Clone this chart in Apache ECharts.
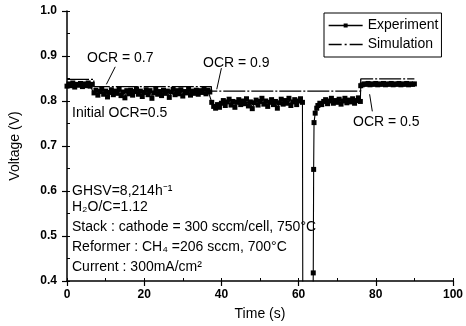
<!DOCTYPE html>
<html>
<head>
<meta charset="utf-8">
<script src="https://cdn.jsdelivr.net/npm/echarts@6/dist/echarts.min.js"></script>
<style>
html,body{margin:0;padding:0;background:#fff}
#chart{width:466px;height:326px}
</style>
</head>
<body>
<div id="chart"></div>
<script>
// experiment: time (s) and stack voltage (V)
const expTime = [
    0,0.5,1,1.5,2,2.5,3,3.5,4,4.5,5,5.5,6,6.5,
    7,7.5,8,8.5,9,9.5,10,10.5,11,11.5,
    12,12.5,13,13.5,14,14.5,15,15.5,16,16.5,
    17,17.5,18,18.5,19,19.5,20,20.5,21,21.5,
    22,22.5,23,23.5,24,24.5,25,25.5,26,26.5,
    27,27.5,28,28.5,29,29.5,30,30.5,31,31.5,
    32,32.5,33,33.5,34,34.5,35,35.5,36,36.5,37,
    37.5,38,38.5,39,39.5,40,40.5,41,41.5,42,
    42.5,43,43.5,44,44.5,45,45.5,46,46.5,47,
    47.5,48,48.5,49,49.5,50,50.5,51,51.5,52,
    52.5,53,53.5,54,54.5,55,55.5,56,56.5,57,
    57.5,58,58.5,59,59.5,60,60.5,61,
    61.1,63.7,63.8,63.9,64,64.3,64.7,65,65.5,
    66,66.5,67,67.5,68,68.5,69,69.5,70,70.5,71,71.5,72,72.5,73,73.5,74,74.5,75,75.5,76,
    76.1,76.5,77,77.5,78,78.5,79,79.5,80,80.5,81,81.5,82,82.5,83,83.5,84,84.5,85,85.5,
    86,86.5,87,87.5,88,88.5,89,89.5,90
];
const expVolt = [
    0.833,0.838,0.834,0.840,0.831,0.837,0.835,0.839,0.832,0.838,0.834,0.840,0.833,0.837,
    0.818,0.824,0.813,0.821,0.827,0.815,0.822,0.809,0.819,0.825,
    0.814,0.822,0.817,0.826,0.812,0.820,0.807,0.823,0.816,0.824,
    0.813,0.821,0.827,0.815,0.822,0.810,0.819,0.825,0.814,0.823,
    0.806,0.818,0.826,0.815,0.821,0.812,0.824,0.817,0.822,0.808,
    0.820,0.826,0.814,0.823,0.816,0.825,0.811,0.821,0.818,0.826,
    0.813,0.822,0.817,0.824,0.815,0.823,0.819,0.827,0.816,0.824,0.820,
    0.797,0.788,0.784,0.792,0.786,0.795,0.801,0.790,0.798,0.804,
    0.791,0.799,0.786,0.797,0.803,0.792,0.800,0.794,0.805,0.789,
    0.798,0.783,0.796,0.802,0.791,0.799,0.806,0.793,0.800,0.788,
    0.797,0.803,0.792,0.799,0.784,0.796,0.804,0.793,0.801,0.795,
    0.806,0.790,0.798,0.803,0.792,0.800,0.805,0.797,
    0.30,0.30,0.418,0.648,0.752,0.773,0.784,0.790,0.795,
    0.792,0.799,0.803,0.794,0.800,0.806,0.795,0.801,0.797,0.804,0.793,0.800,0.806,0.796,0.802,0.798,0.805,0.795,0.801,0.807,0.799,
    0.834,0.836,0.838,0.837,0.839,0.836,0.838,0.837,0.839,0.836,0.838,0.837,0.839,0.836,0.838,0.837,0.839,0.836,0.838,0.837,
    0.839,0.836,0.838,0.837,0.839,0.836,0.838,0.837,0.838
];

// simulation: step response
const simTime = [0, 6.95, 6.95, 37.4, 37.4, 76.1, 76.1, 90];
const simVolt = [0.848, 0.848, 0.832, 0.832, 0.822, 0.822, 0.849, 0.849];

// OCR arrows [fromT, fromV, toT, toV]
const arrows = [
    [12.5, 0.876, 10.2, 0.837],
    [40.0, 0.873, 38.8, 0.826],
    [79.1, 0.777, 78.4, 0.815]
];

const FONT = '"Liberation Sans", Arial, sans-serif';

const chart = echarts.init(document.getElementById('chart'));

function txt(x, y, s) {
    return {
        type: 'text', x: x, y: y, silent: true,
        style: { text: s, fill: '#000', font: '14px ' + FONT, verticalAlign: 'middle' }
    };
}

const option = {
    animation: false,
    backgroundColor: '#fff',
    textStyle: { fontFamily: FONT },
    grid: { left: 66, right: 7, top: 11, bottom: 44 },
    legend: {
        orient: 'vertical',
        left: 324, top: 13,
        padding: [4, 3, 4, 4],
        itemGap: 2,
        itemWidth: 34, itemHeight: 5,
        borderColor: '#000', borderWidth: 1, borderRadius: 0,
        textStyle: { color: '#000', fontSize: 14, fontFamily: FONT, lineHeight: 17 },
        data: [
            { name: 'Experiment', lineStyle: { width: 1.3 } },
            { name: 'Simulation', itemStyle: { color: 'rgba(0,0,0,0)', borderWidth: 0 },
              lineStyle: { type: [13, 3, 2, 3], width: 1.3 } }
        ]
    },
    xAxis: [{
        type: 'value', min: 0, max: 100, interval: 20,
        name: 'Time (s)', nameLocation: 'middle', nameGap: 26,
        nameTextStyle: { color: '#000', fontSize: 14, fontFamily: FONT },
        axisLine: { lineStyle: { color: '#000', width: 1.5 } },
        axisTick: { length: 5, lineStyle: { color: '#000', width: 1.2 } },
        axisLabel: { color: '#000', fontSize: 12, fontWeight: 'bold', margin: 8, fontFamily: FONT },
        splitLine: { show: false }
    }, {
        type: 'value', min: 0, max: 100, interval: 10, position: 'bottom',
        axisLine: { show: false },
        axisTick: { inside: true, length: 3, lineStyle: { color: '#000', width: 1 } },
        axisLabel: { show: false },
        splitLine: { show: false }
    }],
    yAxis: [{
        type: 'value', min: 0.4, max: 1.0, interval: 0.1,
        name: 'Voltage (V)', nameLocation: 'middle', nameGap: 45,
        nameTextStyle: { color: '#000', fontSize: 14, fontFamily: FONT },
        axisLine: { show: true, lineStyle: { color: '#000', width: 1.5 } },
        axisTick: { show: true, length: 5, lineStyle: { color: '#000', width: 1.2 } },
        axisLabel: { color: '#000', fontSize: 12, fontWeight: 'bold', margin: 10, fontFamily: FONT,
            formatter: v => v.toFixed(1) },
        splitLine: { show: false }
    }, {
        type: 'value', min: 0.4, max: 1.0, interval: 0.05, position: 'left',
        axisLine: { show: false },
        axisTick: { show: true, inside: true, length: 3, lineStyle: { color: '#000', width: 1 } },
        axisLabel: { show: false },
        splitLine: { show: false }
    }],
    series: [
        {
            name: 'Experiment',
            type: 'line',
            data: expTime.map((t, i) => [t, expVolt[i]]),
            symbol: 'rect', symbolSize: 5,
            showAllSymbol: true,
            itemStyle: { color: '#000' },
            lineStyle: { color: '#000', width: 1.1 },
            markLine: {
                silent: true,
                symbol: ['none', 'arrow'],
                symbolSize: [0, 6],
                label: { show: false },
                lineStyle: { color: '#000', width: 1, type: 'solid' },
                emphasis: { disabled: true },
                data: arrows.map(a => [{ coord: [a[0], a[1]] }, { coord: [a[2], a[3]] }])
            }
        },
        {
            name: 'Simulation',
            type: 'line',
            data: simTime.map((t, i) => [t, simVolt[i]]),
            symbol: 'none',
            itemStyle: { color: '#000' },
            lineStyle: { color: '#000', width: 1.3, type: [22, 2, 2, 2] }
        }
    ],
    graphic: [
        txt(87, 58, 'OCR = 0.7'),
        txt(203, 63, 'OCR = 0.9'),
        txt(72, 113, 'Initial OCR=0.5'),
        txt(353, 122, 'OCR = 0.5'),
        txt(72, 191, 'GHSV=8,214h⁻¹'),
        txt(72, 207, 'H₂O/C=1.12'),
        txt(72, 227, 'Stack : cathode = 300 sccm/cell, 750°C'),
        txt(72, 247, 'Reformer : CH₄ =206 sccm, 700°C'),
        txt(72, 267, 'Current : 300mA/cm²')
    ]
};

chart.setOption(option);
</script>
</body>
</html>
